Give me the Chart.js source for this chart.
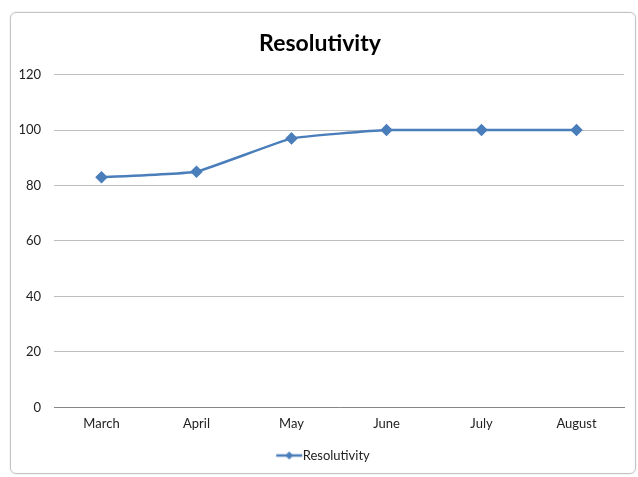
<!DOCTYPE html>
<html><head><meta charset="utf-8">
<script src="https://cdn.jsdelivr.net/npm/chart.js@4/dist/chart.umd.min.js"></script>
<style>
html,body{margin:0;padding:0;background:#fff;}
#frame{position:absolute;left:10px;top:12px;width:624px;height:460px;border:1px solid #c4c4c4;border-radius:6px;box-shadow:0 0 2px #ddd;}
#wrap{position:absolute;left:0;top:0;width:638px;height:477px;}
</style></head>
<body>
<div id="frame"></div>
<div id="wrap"><canvas id="c" width="638" height="477"></canvas></div>
<script>
const categories = ["March","April","May","June","July","August"];
const resolutivity = [83, 85, 97, 100, 100, 100];
const seriesName = "Resolutivity";
const yTicks = [0, 20, 40, 60, 80, 100, 120];

const lineColor = '#4a7ebb';
const FONT = 'Lato, "Open Sans", sans-serif';

// legend symbol: short line with a diamond (right-aligned so text sits right after it)
const sym = document.createElement('canvas');
sym.width = 40; sym.height = 12;
(function(){
  const g = sym.getContext('2d');
  g.strokeStyle = lineColor; g.lineWidth = 2.5;
  g.beginPath(); g.moveTo(13,6); g.lineTo(39,6); g.stroke();
  g.fillStyle = lineColor;
  g.beginPath(); g.moveTo(26,2); g.lineTo(30,6); g.lineTo(26,10); g.lineTo(22,6); g.closePath(); g.fill();
})();

new Chart(document.getElementById('c'), {
  type: 'line',
  data: {
    labels: categories,
    datasets: [{
      label: seriesName,
      data: resolutivity,
      borderColor: lineColor,
      backgroundColor: lineColor,
      borderWidth: 2.5,
      tension: 0.1,
      pointStyle: 'rectRot',
      pointRadius: 4.5,
      pointHoverRadius: 4.5,
      pointBackgroundColor: lineColor,
      pointBorderColor: lineColor,
      fill: false
    }]
  },
  options: {
    responsive: false,
    animation: false,
    devicePixelRatio: 1,
    layout: { padding: { top: 30, right: 14, bottom: 5, left: 16 } },
    plugins: {
      title: {
        display: true, text: 'Resolutivity', color: '#000',
        font: { family: FONT, size: 23, weight: 'bold' },
        padding: { top: 0, bottom: 17 }
      },
      legend: {
        position: 'bottom',
        labels: {
          color: '#222', font: { family: FONT, size: 13 },
          usePointStyle: true, pointStyleWidth: 26, boxHeight: 12, padding: 8,
          generateLabels: (chart) => [{
            text: seriesName, pointStyle: sym, fillStyle: lineColor,
            strokeStyle: lineColor, lineWidth: 0, datasetIndex: 0, fontColor: '#222'
          }]
        }
      },
      tooltip: { enabled: false }
    },
    scales: {
      x: {
        offset: true,
        grid: { display: false, drawTicks: false },
        border: { display: true, color: '#868686', width: 1 },
        ticks: { color: '#222', font: { family: FONT, size: 13 }, padding: 9, maxRotation: 0 }
      },
      y: {
        min: 0, max: 120,
        afterBuildTicks: (s) => { s.ticks = yTicks.map(v => ({ value: v })); },
        afterFit: (s) => { s.width = 38; },
        grid: { color: '#bdbdbd', lineWidth: 1, drawTicks: false },
        border: { display: false },
        ticks: { color: '#222', font: { family: FONT, size: 13 }, padding: 13 }
      }
    }
  }
});
</script>
</body></html>
